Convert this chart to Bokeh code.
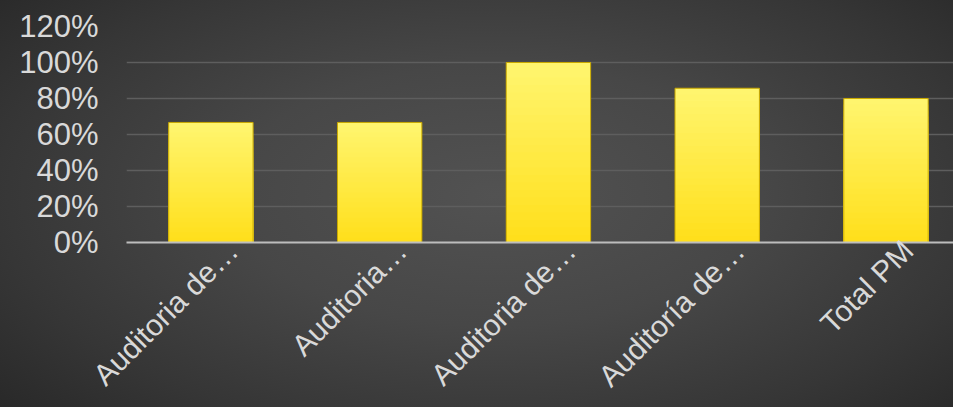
import math
from bokeh.plotting import figure
from bokeh.models import Range1d, FixedTicker, ColumnDataSource, LinearAxis
from bokeh.embed import file_html
from bokeh.resources import INLINE

# ---- data ----
categories = ["Auditoria de…", "Auditoria…", "Auditoria de…", "Auditoría de…", "Total PM"]
values = [0.667, 0.667, 1.0, 0.857, 0.80]
y_ticks = [0, 0.2, 0.4, 0.6, 0.8, 1.0, 1.2]
y_tick_labels = ["0%", "20%", "40%", "60%", "80%", "100%", "120%"]

xs = list(range(len(categories)))

X0, X1 = -0.5, 4.40
PX_PER_CAT = 168.8
LABEL_SHIFT = 22 / PX_PER_CAT

# ---- figure ----
p = figure(width=953, height=407, output_backend="svg", toolbar_location=None,
           x_range=Range1d(X0, X1), y_range=Range1d(0, 1.2),
           x_axis_location=None,
           min_border_left=126, min_border_right=0, min_border_top=26,
           min_border_bottom=164)
p.background_fill_alpha = 0
p.border_fill_alpha = 0
p.outline_line_color = None
p.extra_x_ranges = {"lab": Range1d(X0 - LABEL_SHIFT, X1 - LABEL_SHIFT)}
p.xgrid.grid_line_color = None

# gradient bars: overlapping layers, each reaching a fraction of the bar's value
N = 24
top_c = (0xFF, 0xF5, 0x70)
bot_c = (0xFF, 0xDF, 0x1A)
bx, bt, bc = [], [], []
for k in range(N, 0, -1):
    f = (k - 0.5) / N
    col = tuple(int(round(bot_c[j] + (top_c[j] - bot_c[j]) * f)) for j in range(3))
    for xi, v in zip(xs, values):
        bx.append(xi)
        bt.append(v * k / N)
        bc.append("#%02x%02x%02x" % col)
layers = ColumnDataSource(dict(x=bx, top=bt, color=bc))
p.vbar(x="x", bottom=0, top="top", width=0.5, fill_color="color",
       line_color=None, source=layers)

src = ColumnDataSource(dict(x=xs, top=values))
p.vbar(x="x", top="top", bottom=0, width=0.5, fill_alpha=0,
       line_color="#C9A800", line_width=1, source=src)

# ---- category axis (labels shifted through an offset range) ----
xaxis = LinearAxis(x_range_name="lab", ticker=FixedTicker(ticks=xs))
xaxis.major_label_overrides = {i: c for i, c in zip(xs, categories)}
xaxis.major_label_orientation = math.pi / 4
xaxis.major_tick_line_color = None
xaxis.minor_tick_line_color = None
xaxis.major_tick_out = 0
xaxis.major_tick_in = 0
xaxis.minor_tick_out = 0
xaxis.axis_line_color = "#BDBDBD"
xaxis.axis_line_width = 2
xaxis.major_label_standoff = 3
xaxis.major_label_text_font = "Liberation Sans"
xaxis.major_label_text_font_size = "30px"
xaxis.major_label_text_color = "#D9D9D9"
p.add_layout(xaxis, "below")

p.yaxis.ticker = FixedTicker(ticks=y_ticks)
p.yaxis.major_label_overrides = {t: l for t, l in zip(y_ticks, y_tick_labels)}
p.yaxis.axis_line_color = None
p.yaxis.major_tick_line_color = None
p.yaxis.minor_tick_line_color = None
p.yaxis.major_tick_out = 0
p.yaxis.major_tick_in = 0
p.yaxis.major_label_standoff = 28
p.yaxis.major_label_text_font = "Liberation Sans"
p.yaxis.major_label_text_font_size = "31px"
p.yaxis.major_label_text_color = "#D9D9D9"

p.ygrid.ticker = FixedTicker(ticks=y_ticks)
p.ygrid.grid_line_color = "#5E5E5E"
p.ygrid.grid_line_width = 1.3

html = file_html(p, INLINE, title="chart")
style = ("<style>html,body{background:#3a3a3a;"
         "background:radial-gradient(ellipse 70% 80% at 52% 48%, #525252 0%, #474747 40%, #363636 75%, #282828 100%);"
         "background-attachment:fixed;min-height:100%;}</style>")
html = html.replace("</head>", style + "</head>", 1)
open("out.html", "w").write(html)
